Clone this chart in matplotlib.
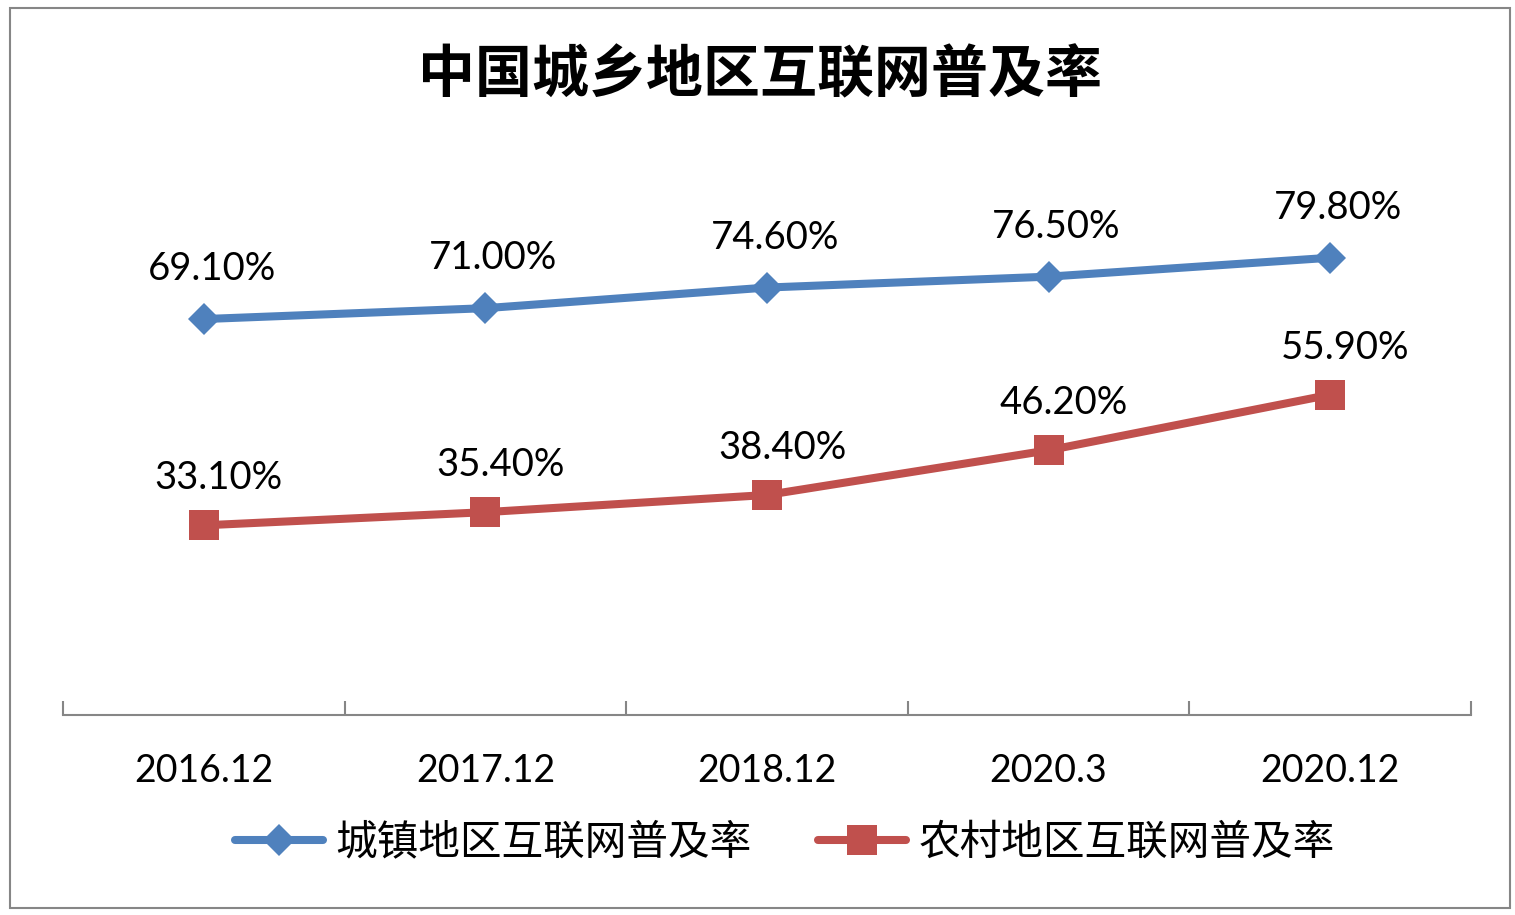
import matplotlib
matplotlib.use("Agg")
import matplotlib.pyplot as plt
from matplotlib.patches import Rectangle
from matplotlib.ticker import FixedLocator

plt.rcParams["font.family"] = ["Lato", "Noto Sans CJK SC", "DejaVu Sans"]

periods = ["2016.12", "2017.12", "2018.12", "2020.3", "2020.12"]
urban = [69.1, 71.0, 74.6, 76.5, 79.8]
rural = [33.1, 35.4, 38.4, 46.2, 55.9]
urban_name = "城镇地区互联网普及率"
rural_name = "农村地区互联网普及率"
title = "中国城乡地区互联网普及率"

W, H = 1515, 915
fig = plt.figure(figsize=(W / 100, H / 100), dpi=100)

# axes placed in pixel terms of the reference
ax = fig.add_axes([63 / W, 1 - 715 / H, (1471 - 63) / W, (715 - 142) / H])
x = list(range(len(periods)))

blue = "#4F81BD"
red = "#C0504D"
ax.plot(x, urban, color=blue, lw=5.8, marker="D", ms=16, mew=0,
        label=urban_name, solid_capstyle="round")
ax.plot(x, rural, color=red, lw=5.8, marker="s", ms=22, mew=0,
        label=rural_name, solid_capstyle="round")

for xi, v in zip(x, urban):
    ax.annotate(f"{v:.2f}%", (xi, v), xytext=(8, 50), textcoords="offset pixels",
                ha="center", va="center", fontsize=27.5, family="Lato")
for xi, v in zip(x, rural):
    ax.annotate(f"{v:.2f}%", (xi, v), xytext=(15, 47), textcoords="offset pixels",
                ha="center", va="center", fontsize=27.5, family="Lato")

ax.set_xlim(-0.5, len(periods) - 0.5)
ax.set_ylim(0, 100)
for s in ["left", "top", "right"]:
    ax.spines[s].set_visible(False)
ax.spines["bottom"].set_color("#868686")
ax.spines["bottom"].set_linewidth(1.5)
ax.set_yticks([])

ax.xaxis.set_major_locator(FixedLocator([i - 0.5 for i in range(len(periods) + 1)]))
ax.xaxis.set_major_formatter(plt.NullFormatter())
ax.xaxis.set_minor_locator(FixedLocator(x))
ax.set_xticklabels(periods, minor=True, fontsize=27)
ax.tick_params(axis="x", which="major", direction="in", length=10, width=1.5, color="#868686")
ax.tick_params(axis="x", which="minor", length=0, pad=27)

fig.text(760 / W, 1 - 75 / H, title, ha="center", va="center", fontsize=41,
         fontweight="bold", family=["Noto Sans CJK SC", "DejaVu Sans"])

fig.legend(loc="center", bbox_to_anchor=(785 / W, 1 - 843 / H), ncol=2, frameon=False,
           prop={"family": ["Noto Sans CJK SC", "DejaVu Sans"], "size": 30},
           handlelength=2.1, handletextpad=0.3, columnspacing=1.6)

fig.patches.append(Rectangle((10 / W, 1 - 908 / H), 1500 / W, 900 / H, transform=fig.transFigure,
                             fill=False, edgecolor="#868686", lw=1.5))

fig.savefig("out.png", dpi=100)
